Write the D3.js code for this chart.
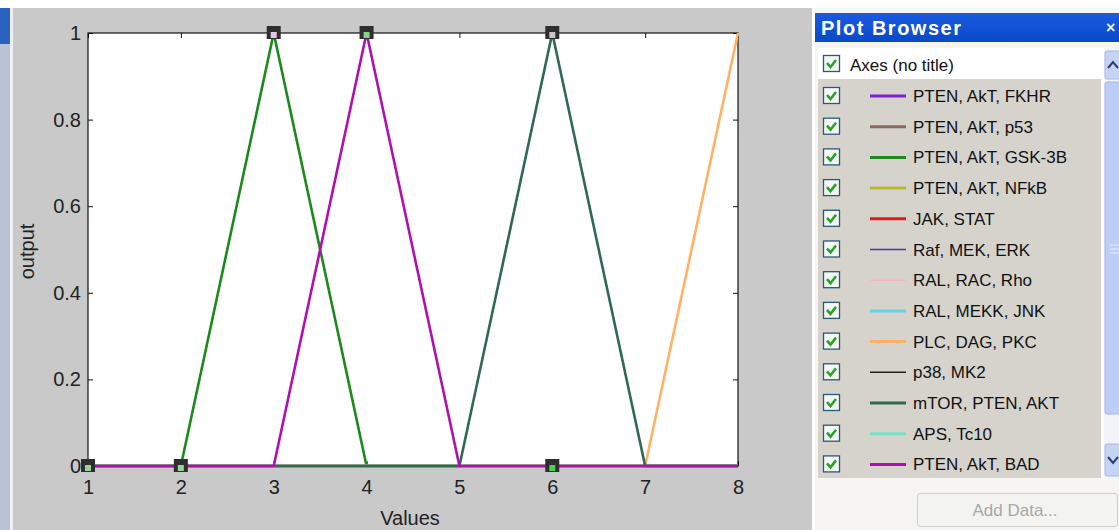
<!DOCTYPE html>
<html>
<head>
<meta charset="utf-8">
<script src="https://cdn.jsdelivr.net/npm/d3@7"></script>
<style>
  body { margin: 0; background: #fff; }
  svg text { font-family: "Liberation Sans", Arial, sans-serif; }
</style>
</head>
<body>
<div id="chart"></div>
<script>
// x values shared by every series
var xValues = [1, 2, 3, 4, 5, 6, 7, 8];

var seriesNames = [
  "PTEN, AkT, FKHR", "PTEN, AkT, p53", "PTEN, AkT, GSK-3B", "PTEN, AkT, NFkB",
  "JAK, STAT", "Raf, MEK, ERK", "RAL, RAC, Rho", "RAL, MEKK, JNK",
  "PLC, DAG, PKC", "p38, MK2", "mTOR, PTEN, AKT", "APS, Tc10", "PTEN, AkT, BAD"
];
var seriesColors = [
  "#7a22cc", "#8c6a60", "#1b8a1b", "#b8b832",
  "#e01a1a", "#3c3ca8", "#f2b8c4", "#66d2e2",
  "#ffb266", "#202020", "#2f6a50", "#7ae2c8", "#b010b0"
];
var seriesWidths = [3, 3, 3, 3, 3, 1.5, 1.5, 3, 3, 1.5, 3, 3, 3];
var seriesValues = [
  [0, 0, 0, 0, 0, 0, 0, 0],
  [0, 0, 0, 0, 0, 0, 0, 0],
  [0, 0, 1, 0, 0, 0, 0, 0],
  [0, 0, 0, 0, 0, 0, 0, 0],
  [0, 0, 0, 0, 0, 0, 0, 0],
  [0, 0, 0, 0, 0, 0, 0, 0],
  [0, 0, 0, 0, 0, 0, 0, 0],
  [0, 0, 0, 0, 0, 0, 0, 0],
  [0, 0, 0, 0, 0, 0, 0, 1],
  [0, 0, 0, 0, 0, 0, 0, 0],
  [0, 0, 0, 0, 0, 1, 0, 0],
  [0, 0, 0, 0, 0, 0, 0, 0],
  [0, 0, 0, 1, 0, 0, 0, 0]
];
// stacking order on the plot (last one ends up on top)
var drawOrder = [0, 1, 2, 3, 4, 5, 6, 7, 8, 9, 11, 10, 12];

// selection handle squares shown on the plot
var handleX = [1, 2, 3, 4, 6, 6];
var handleY = [0, 0, 1, 1, 1, 0];
var handleInner = ["#9ad29a", "#9ad29a", "#e6c4e6", "#8ad28a", "#c8c8c8", "#4ad24a"];

var xTicks = [1, 2, 3, 4, 5, 6, 7, 8];
var yTicks = [0, 0.2, 0.4, 0.6, 0.8, 1];

var W = 1119, H = 530;

var svg = d3.select("#chart").append("svg")
    .attr("width", W)
    .attr("height", H);

// window background
svg.append("rect").attr("width", W).attr("height", H).attr("fill", "#ffffff");
svg.append("rect").attr("x", 12).attr("y", 8).attr("width", 800).attr("height", H - 8)
    .attr("fill", "#c9c9c9");

var x = d3.scaleLinear().domain([1, 8]).range([88, 738]),
    y = d3.scaleLinear().domain([0, 1]).range([466, 33]);

// ylabel first, so the window frame clips it
svg.append("text")
    .attr("transform", "translate(34," + (y(0.5) + 2) + ") rotate(-90)")
    .attr("text-anchor", "middle")
    .style("font-size", "20px")
    .attr("fill", "#222")
    .text("output");

// left window frame
svg.append("rect").attr("x", 0).attr("y", 8).attr("width", 10).attr("height", H - 8).attr("fill", "#b9c3d3");
svg.append("rect").attr("x", 0).attr("y", 8).attr("width", 10).attr("height", 36).attr("fill", "#2a62c0");
svg.append("rect").attr("x", 10).attr("y", 8).attr("width", 3).attr("height", H - 8).attr("fill", "#eef0f4");

var plot = svg.append("g");

plot.append("rect")
    .attr("x", x(1)).attr("y", y(1))
    .attr("width", x(8) - x(1)).attr("height", y(0) - y(1))
    .attr("fill", "#ffffff");

// axes, ticks pointing inward (box on)
function styleAxis(g) {
  g.select(".domain").remove();
  g.selectAll(".tick line").attr("stroke", "#111");
  g.selectAll(".tick text").style("font-size", "20px").attr("fill", "#222")
    .style("font-family", "'Liberation Sans', Arial, sans-serif");
}

plot.append("g")
    .attr("transform", "translate(" + x(1) + ",0)")
    .call(d3.axisLeft(y).tickValues(yTicks).tickSize(-5).tickPadding(7)
      .tickFormat(d3.format("")))
    .call(styleAxis);

plot.append("g")
    .attr("transform", "translate(" + x(8) + ",0)")
    .call(d3.axisRight(y).tickValues(yTicks).tickSize(-5).tickFormat(""))
    .call(styleAxis);

plot.append("g")
    .attr("transform", "translate(0," + y(0) + ")")
    .call(d3.axisBottom(x).tickValues(xTicks).tickSize(-5).tickPadding(14)
      .tickFormat(d3.format("d")))
    .call(styleAxis);

plot.append("g")
    .attr("transform", "translate(0," + y(1) + ")")
    .call(d3.axisTop(x).tickValues(xTicks).tickSize(-5).tickFormat(""))
    .call(styleAxis);

plot.append("rect")
    .attr("x", x(1)).attr("y", y(1))
    .attr("width", x(8) - x(1)).attr("height", y(0) - y(1))
    .attr("fill", "none").attr("stroke", "#111").attr("stroke-width", 1.2);

plot.append("text")
    .attr("x", 410)
    .attr("y", 525)
    .attr("text-anchor", "middle")
    .style("font-size", "20px")
    .attr("fill", "#222")
    .text("Values");

var line = d3.line()
    .x(function(d, i){ return x(xValues[i]); })
    .y(function(d){ return y(d); });

plot.selectAll(".series")
    .data(drawOrder)
  .enter().append("path")
    .attr("class", "series")
    .attr("d", function(k){ return line(seriesValues[k]); })
    .attr("fill", "none")
    .attr("stroke", function(k){ return seriesColors[k]; })
    .attr("stroke-width", function(k){ return seriesWidths[k] < 2 ? 2 : 2.6; })
    .attr("stroke-linejoin", "miter");

// handles
var handles = plot.selectAll(".handle")
    .data(handleX)
  .enter().append("g")
    .attr("class", "handle")
    .attr("transform", function(d, i){ return "translate(" + x(d) + "," + y(handleY[i]) + ")"; });
handles.append("rect")
    .attr("x", -7).attr("y", -7).attr("width", 14).attr("height", 13)
    .attr("fill", "#2e2e2e");
handles.append("rect")
    .attr("x", -3).attr("y", -1).attr("width", 6).attr("height", 6)
    .attr("fill", function(d, i){ return handleInner[i]; });

// ---------------- Plot Browser panel ----------------
var pb = svg.append("g");
var px = 813;

pb.append("rect").attr("x", px).attr("y", 8).attr("width", W - px).attr("height", H - 8)
    .attr("fill", "#f6f5f1");
pb.append("rect").attr("x", px).attr("y", 8).attr("width", 2).attr("height", H - 8)
    .attr("fill", "#ffffff");

var grad = svg.append("defs").append("linearGradient")
    .attr("id", "titlebar").attr("x1", 0).attr("x2", 0).attr("y1", 0).attr("y2", 1);
grad.append("stop").attr("offset", "0%").attr("stop-color", "#1a5ce0");
grad.append("stop").attr("offset", "100%").attr("stop-color", "#0a48c8");

pb.append("rect").attr("x", px + 2).attr("y", 13).attr("width", W - px - 2).attr("height", 29)
    .attr("fill", "url(#titlebar)");
pb.append("text")
    .attr("x", 821).attr("y", 35)
    .style("font-size", "20px").style("font-weight", "bold")
    .attr("fill", "#ffffff")
    .attr("textLength", 140)
    .text("Plot Browser");
pb.append("text")
    .attr("x", 1106).attr("y", 33)
    .style("font-size", "16px").style("font-weight", "bold")
    .attr("fill", "#e8f0ff")
    .text("\u00d7");

// list box
var rowY0 = 96, rowStep = 30.7;
var listTop = 48, listBottom = 478;
pb.append("rect").attr("x", 818).attr("y", listTop).attr("width", 286).attr("height", listBottom - listTop)
    .attr("fill", "#ffffff");
pb.append("rect").attr("x", 818).attr("y", 79).attr("width", 283).attr("height", listBottom - 79)
    .attr("fill", "#d6d3cd");

function checkbox(g, cy) {
  g.append("rect").attr("x", 823.5).attr("y", cy - 8.5).attr("width", 16).attr("height", 16)
      .attr("fill", "#f4f8f4").attr("stroke", "#2a5878").attr("stroke-width", 1.3);
  g.append("path")
      .attr("d", "M827," + (cy - 1) + " L830.5," + (cy + 3) + " L836," + (cy - 4))
      .attr("fill", "none").attr("stroke", "#2aa02a").attr("stroke-width", 2.6);
}

checkbox(pb, 64);
pb.append("text").attr("x", 850).attr("y", 71).style("font-size", "17px").attr("fill", "#111")
    .text("Axes (no title)");

var rows = pb.selectAll(".row")
    .data(seriesNames)
  .enter().append("g")
    .attr("class", "row");
rows.each(function(d, i){
  var g = d3.select(this), cy = rowY0 + i * rowStep;
  checkbox(g, cy);
  g.append("line")
      .attr("x1", 870).attr("x2", 906).attr("y1", cy).attr("y2", cy)
      .attr("stroke", seriesColors[i]).attr("stroke-width", seriesWidths[i]);
  g.append("text").attr("x", 913).attr("y", cy + 6)
      .style("font-size", "17px").attr("fill", "#111")
      .text(d);
});

// scrollbar
var sb = pb.append("g");
sb.append("rect").attr("x", 1104).attr("y", listTop + 2).attr("width", 15).attr("height", listBottom - listTop - 2)
    .attr("fill", "#f2f4fa");
sb.append("rect").attr("x", 1105).attr("y", 51).attr("width", 16).attr("height", 28).attr("rx", 2)
    .attr("fill", "#c6d4f4").attr("stroke", "#a8b8e6");
sb.append("path").attr("d", "M1108,68 L1113,62 L1118,68").attr("fill", "none")
    .attr("stroke", "#2c3c78").attr("stroke-width", 2);
sb.append("rect").attr("x", 1105).attr("y", 82).attr("width", 16).attr("height", 332).attr("rx", 2)
    .attr("fill", "#bccdf6").attr("stroke", "#a4b6ea");
sb.append("path").attr("d", "M1110,245 H1119 M1110,249 H1119 M1110,253 H1119")
    .attr("stroke", "#e8eefc").attr("stroke-width", 1);
sb.append("rect").attr("x", 1105).attr("y", 444).attr("width", 16).attr("height", 32).attr("rx", 2)
    .attr("fill", "#c6d4f4").attr("stroke", "#a8b8e6");
sb.append("path").attr("d", "M1108,457 L1113,463 L1118,457").attr("fill", "none")
    .attr("stroke", "#2c3c78").attr("stroke-width", 2);

// Add Data button
pb.append("rect").attr("x", 917.5).attr("y", 493.5).attr("width", 200).attr("height", 33).attr("rx", 3)
    .attr("fill", "#f3f3ef").attr("stroke", "#cfcfc8");
pb.append("text").attr("x", 1015).attr("y", 516).attr("text-anchor", "middle")
    .style("font-size", "17px").attr("fill", "#a8a8a8")
    .text("Add Data...");
</script>
</body>
</html>
